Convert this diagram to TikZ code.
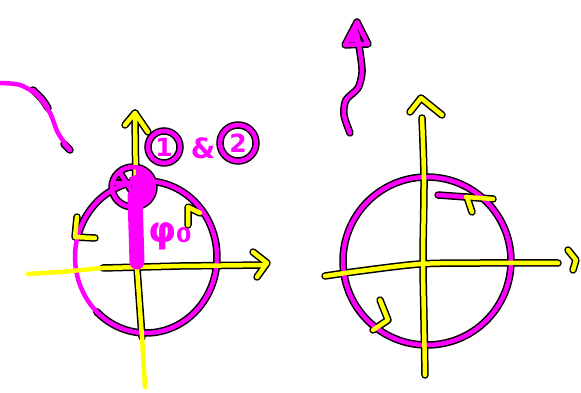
\documentclass[tikz,border=0pt]{standalone}
\usepackage{fontspec}
\setmainfont{DejaVu Sans}
\definecolor{mag}{HTML}{FF00FF}
\definecolor{yel}{HTML}{FFFF00}
\pgfdeclarelayer{outl}
\pgfdeclarelayer{paper}
\pgfsetlayers{paper,outl,main}
\tikzset{
  stroke/.style={line width=4.5pt,line cap=round,line join=round},
  outline/.style={stroke,draw=black,line width=7.5pt},
  mg/.style={stroke,draw=mag},
  yl/.style={stroke,draw=yel},
  ringnode/.style={circle,draw=mag,line width=4.5pt,inner sep=0pt,text=mag,
    font=\bfseries\fontsize{25}{25}\selectfont,
    preaction={draw=black,line width=7.5pt}},
  lbl/.style={text=mag,inner sep=0pt}
}
\newcommand\ink[2]{\begin{pgfonlayer}{outl}\draw[outline] #2;\end{pgfonlayer}\draw[#1] #2;}
\begin{document}
\begin{tikzpicture}[x=1pt,y=-1pt]
\begin{pgfonlayer}{paper}
\fill[white] (0,0) rectangle (581,393);
\end{pgfonlayer}
\useasboundingbox (0,0) rectangle (581,393);

% ---------- left figure ----------
\draw[mg] plot[smooth] coordinates {(0,83) (20,85) (37,95) (50,113) (58,133) (70,150)};
\ink{mg}{plot[smooth] coordinates {(33,90) (42,99) (48,108)}}
\ink{mg}{(64,144) -- (70,150)}

\ink{mg}{plot[domain=195:494,samples=90] ({146+71*cos(\x)},{257+76*sin(\x)})}
\draw[mg] plot[domain=134:196,samples=30] ({146+71*cos(\x)},{257+76*sin(\x)});

\draw[yl] (28,274) -- (60,272) -- (103,268);
\ink{yl}{(103,268) -- (180,266) -- (263,265)}
\ink{yl}{(253,252) -- (267,263) -- (257,277)}
\ink{yl}{(135,113) -- (136,200) -- (137,268) -- (142,337)}
\draw[yl] (142,337) -- (145,387);
\ink{yl}{(125,125) -- (135,113) -- (148,132)}
\ink{yl}{(77,217) -- (75,237) -- (95,238)}
\ink{yl}{(188,225) -- (188,207) -- (200,213)}

\ink{mg}{(133,187) ellipse [x radius=21pt,y radius=20pt]}
\ink{mg}{(113,183) -- (133,183)}
\ink{mg}{(120,173) -- (133,193)}
\fill[mag] (136,168) arc[start angle=90,end angle=-90,x radius=19pt,y radius=19pt] -- cycle;
\ink{mg}{(136,200) -- (138,265)}
\draw[mag,line width=15pt,line cap=round] (135,196) -- (137,262);
\draw[mag,line width=15pt] (136,175) -- (145,200);

\node[ringnode,minimum size=32pt] (one) at (164,147) {1};
\node[lbl,font=\bfseries\fontsize{28}{28}\selectfont] (amp) at (203,148) {\&};
\node[ringnode,minimum size=36pt] (two) at (238,143) {2};
\node[lbl,font=\bfseries\fontsize{36}{36}\selectfont] (phi) at (170,236) {φ₀};

% ---------- right figure ----------
\ink{mg}{plot[smooth] coordinates {(350,133) (344,115) (346,100) (358,88) (362,72) (360,52) (357,35)}}
\ink{mg}{(345,45) -- (357,22) -- (368,44) -- cycle}
\fill[mag] (349,42) -- (357,26) -- (361,42) -- cycle;

\ink{mg}{(427,261) circle [radius=84pt]}
\ink{yl}{plot[smooth] coordinates {(325,276) (360,271) (420,264) (480,263) (558,263)}}
\ink{yl}{(568,250) -- (576,260) -- (573,270)}
\ink{yl}{plot[smooth] coordinates {(422,118) (424,180) (423,260) (424,320) (425,375)}}
\ink{yl}{(410,112) -- (421,98) -- (442,115)}
\ink{mg}{(438,195) -- (466,197)}
\ink{yl}{(466,197) -- (493,199)}
\ink{yl}{(467,197) -- (472,212)}
\ink{yl}{(380,300) -- (388,320) -- (373,330)}
\end{tikzpicture}
\end{document}
